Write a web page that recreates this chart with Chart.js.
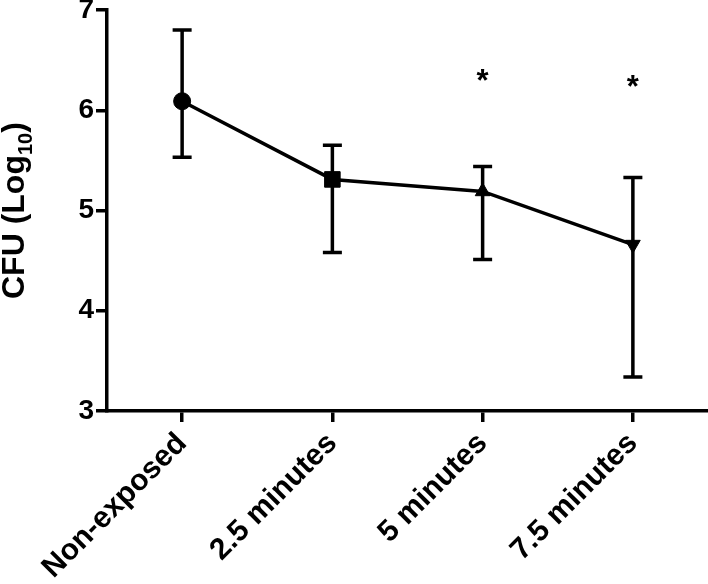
<!DOCTYPE html>
<html>
<head>
<meta charset="utf-8">
<script src="https://cdn.jsdelivr.net/npm/chart.js@4"></script>
<style>
  html, body { margin: 0; padding: 0; background: #fff; }
  #wrap { width: 708px; height: 584px; position: relative; }
</style>
</head>
<body>
<div id="wrap"><canvas id="chart"></canvas></div>
<script>
// data
const groups = ["Non-exposed", "2.5 minutes", "5 minutes", "7.5 minutes"];
const cfuMean = [6.09, 5.31, 5.19, 4.66];
const errHigh = [6.80, 5.65, 5.44, 5.33];
const errLow = [5.53, 4.58, 4.51, 3.34];
const starAt = [null, null, 6.33, 6.27];
const yTicks = [3, 4, 5, 6, 7];

const FONT = "'Liberation Sans', Arial, sans-serif";

// error bars, asterisks and the y title (it has a subscript)
const extras = {
  id: "extras",
  beforeDatasetsDraw(chart) {
    const { ctx, scales: { x, y } } = chart;
    ctx.save();
    ctx.strokeStyle = "#000";
    ctx.lineWidth = 3.5;
    groups.forEach((g, i) => {
      const px = x.getPixelForValue(i);
      const top = y.getPixelForValue(errHigh[i]);
      const bot = y.getPixelForValue(errLow[i]);
      ctx.beginPath();
      ctx.moveTo(px, top); ctx.lineTo(px, bot);
      ctx.moveTo(px - 9.5, top); ctx.lineTo(px + 9.5, top);
      ctx.moveTo(px - 9.5, bot); ctx.lineTo(px + 9.5, bot);
      ctx.stroke();
    });
    ctx.restore();
  },
  afterDraw(chart) {
    const { ctx, scales: { x, y } } = chart;
    ctx.save();
    ctx.fillStyle = "#000";
    ctx.font = `bold 31px ${FONT}`;
    ctx.textAlign = "center";
    ctx.textBaseline = "alphabetic";
    starAt.forEach((v, i) => {
      if (v == null) return;
      ctx.fillText("*", x.getPixelForValue(i), y.getPixelForValue(v) + 14);
    });

    // y axis title
    ctx.translate(24, 299);
    ctx.rotate(-Math.PI / 2);
    ctx.textAlign = "left";
    ctx.font = `bold 32px ${FONT}`;
    let cx = 0;
    ctx.fillText("CFU (Log", cx, 0);
    cx += ctx.measureText("CFU (Log").width;
    ctx.font = `bold 20px ${FONT}`;
    ctx.fillText("10", cx, 8);
    cx += ctx.measureText("10").width;
    ctx.font = `bold 32px ${FONT}`;
    ctx.fillText(")", cx, 0);
    ctx.restore();
  }
};

new Chart(document.getElementById("chart"), {
  type: "line",
  data: {
    labels: groups,
    datasets: [{
      data: cfuMean,
      borderColor: "#000",
      borderWidth: 3.5,
      tension: 0,
      clip: false,
      pointStyle: ["circle", "rect", "triangle", "triangle"],
      pointRotation: [0, 0, 0, 180],
      pointRadius: [8.5, 11, 8.5, 8.5],
      pointBackgroundColor: "#000",
      pointBorderColor: "#000",
      pointBorderWidth: 1
    }]
  },
  options: {
    responsive: true,
    maintainAspectRatio: false,
    animation: false,
    layout: { padding: 0, autoPadding: false },
    plugins: {
      legend: { display: false },
      tooltip: { enabled: false }
    },
    scales: {
      x: {
        offset: true,
        border: { color: "#000", width: 3.5 },
        grid: { display: true, drawOnChartArea: false, drawTicks: true, tickLength: 11, color: "#000", lineWidth: 3.5 },
        ticks: {
          color: "#000",
          font: { family: FONT, size: 30, weight: "bold" },
          minRotation: 45,
          maxRotation: 45,
          padding: 4
        },
        afterFit(s) {
          s.height = 173;
          s.paddingLeft = 0;
          s.paddingRight = 0;
        }
      },
      y: {
        min: 3,
        max: 7,
        border: { color: "#000", width: 3.5 },
        grid: { display: true, drawOnChartArea: false, drawTicks: true, tickLength: 11, color: "#000", lineWidth: 3.5 },
        ticks: {
          color: "#000",
          font: { family: FONT, size: 28, weight: "bold" },
          padding: 2
        },
        afterBuildTicks(s) {
          s.ticks = yTicks.map(v => ({ value: v }));
        },
        afterFit(s) {
          s.width = 107;
          s.paddingTop = 10;
          s.paddingBottom = 0;
        }
      }
    }
  },
  plugins: [extras]
});
</script>
</body>
</html>
